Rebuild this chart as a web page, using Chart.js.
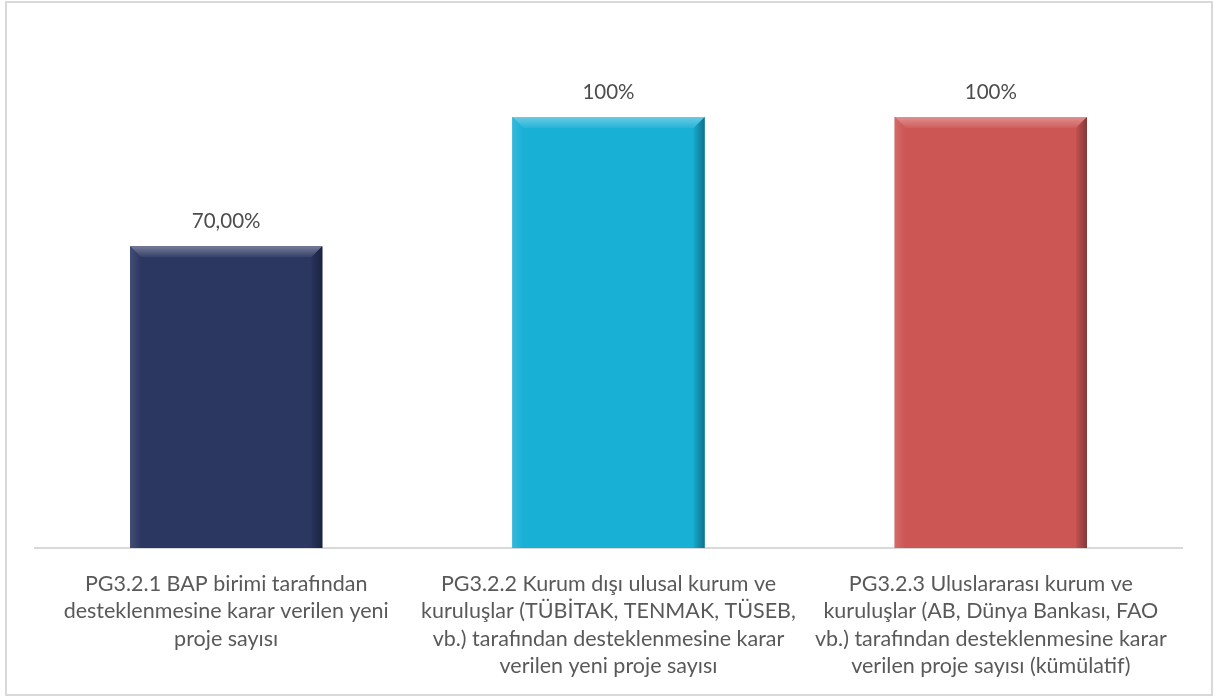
<!DOCTYPE html>
<html><head><meta charset="utf-8">
<script src="https://cdn.jsdelivr.net/npm/chart.js@4/dist/chart.umd.min.js"></script>
<style>html,body{margin:0;padding:0;background:#fff;}#wrap{position:absolute;left:0;top:0;width:1227px;height:700px;}</style>
</head><body><div id="wrap"><canvas id="c" width="1227" height="700"></canvas></div>
<script>
const categories = [
  ["PG3.2.1 BAP birimi tarafından", "desteklenmesine karar verilen yeni", "proje sayısı"],
  ["PG3.2.2 Kurum dışı ulusal kurum ve", "kuruluşlar (TÜBİTAK, TENMAK, TÜSEB,", "vb.) tarafından desteklenmesine karar", "verilen yeni proje sayısı"],
  ["PG3.2.3 Uluslararası kurum ve", "kuruluşlar (AB, Dünya Bankası, FAO", "vb.) tarafından desteklenmesine karar", "verilen proje sayısı (kümülatif)"]
];
const values = [70, 100, 100];
const valueLabels = ["70,00%", "100%", "100%"];
const barColors = ["#2b3661", "#19b0d6", "#cc5654"];
const FONT = "Lato, 'Open Sans', sans-serif";
const TEXT = "#595959";

const framePlugin = {
  id: 'frame',
  beforeDraw(chart) {
    const ctx = chart.ctx;
    ctx.save();
    ctx.fillStyle = '#fff';
    ctx.fillRect(0, 0, chart.width, chart.height);
    ctx.strokeStyle = '#d9d9d9';
    ctx.lineWidth = 2;
    ctx.strokeRect(6, 2, 1206, 693);
    ctx.restore();
  }
};

function shade(hex, amt) {
  const n = parseInt(hex.slice(1), 16);
  let r = (n >> 16) & 255, g = (n >> 8) & 255, b = n & 255;
  if (amt >= 0) { r += (255 - r) * amt; g += (255 - g) * amt; b += (255 - b) * amt; }
  else { r *= 1 + amt; g *= 1 + amt; b *= 1 + amt; }
  return `rgb(${Math.round(r)},${Math.round(g)},${Math.round(b)})`;
}

const bevelPlugin = {
  id: 'bevel',
  afterDatasetsDraw(chart) {
    const ctx = chart.ctx;
    const meta = chart.getDatasetMeta(0);
    meta.data.forEach((bar, i) => {
      const p = bar.getProps(['x', 'y', 'base', 'width'], true);
      const l = p.x - p.width / 2, r = p.x + p.width / 2, t = p.y, b = p.base;
      const d = 11, c = barColors[i];
      ctx.save();
      let g = ctx.createLinearGradient(0, t, 0, t + d);
      g.addColorStop(0, shade(c, 0.35));
      g.addColorStop(1, shade(c, 0.05));
      ctx.fillStyle = g;
      ctx.beginPath(); ctx.moveTo(l, t); ctx.lineTo(r, t); ctx.lineTo(r - d, t + d); ctx.lineTo(l + d, t + d); ctx.closePath(); ctx.fill();
      g = ctx.createLinearGradient(r - d, 0, r, 0);
      g.addColorStop(0, shade(c, -0.05));
      g.addColorStop(1, shade(c, -0.35));
      ctx.fillStyle = g;
      ctx.beginPath(); ctx.moveTo(r, t); ctx.lineTo(r, b); ctx.lineTo(r - d, b); ctx.lineTo(r - d, t + d); ctx.closePath(); ctx.fill();
      g = ctx.createLinearGradient(l, 0, l + d, 0);
      g.addColorStop(0, shade(c, 0.12));
      g.addColorStop(1, c);
      ctx.fillStyle = g;
      ctx.beginPath(); ctx.moveTo(l, t); ctx.lineTo(l + d, t + d); ctx.lineTo(l + d, b); ctx.lineTo(l, b); ctx.closePath(); ctx.fill();
      ctx.restore();
      ctx.save();
      ctx.fillStyle = "#4d4d4d";
      ctx.font = "20.5px " + FONT;
      ctx.textAlign = 'center';
      ctx.textBaseline = 'middle';
      ctx.fillText(valueLabels[i], p.x, t - 25);
      ctx.restore();
    });
  }
};

new Chart(document.getElementById('c'), {
  type: 'bar',
  data: {
    labels: categories,
    datasets: [{
      data: values,
      backgroundColor: barColors,
      borderWidth: 0,
      categoryPercentage: 1.0,
      barPercentage: 0.503
    }]
  },
  options: {
    responsive: false,
    animation: false,
    devicePixelRatio: 1,
    layout: { padding: { left: 35, right: 45, top: 117, bottom: 0 } },
    plugins: { legend: { display: false }, tooltip: { enabled: false } },
    scales: {
      y: { display: false, min: 0, max: 100 },
      x: {
        grid: { display: false, drawTicks: false },
        border: { display: true, color: '#d9d9d9', width: 2 },
        ticks: { color: TEXT, font: { family: FONT, size: 21.5, lineHeight: 1.28 }, padding: 22, maxRotation: 0, autoSkip: false },
        afterFit(scale) { scale.height = 152; }
      }
    }
  },
  plugins: [framePlugin, bevelPlugin]
});
</script>
</body></html>
